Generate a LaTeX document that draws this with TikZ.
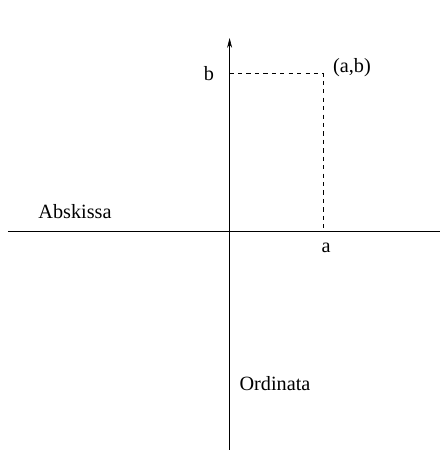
\documentclass[tikz,border=0pt]{standalone}
\usepackage{fontspec}
\setmainfont{Liberation Serif}
\usetikzlibrary{arrows.meta, positioning}

\begin{document}
\begin{tikzpicture}[>={Stealth[length=7pt, width=3.5pt]}, font=\Large]
  \useasboundingbox (0, 0) rectangle (11, 11.25);
  % Axes (horizontal = abskissa, vertical = ordinata)
  \coordinate (xstart) at (0.2, 5.475);
  \coordinate (xend) at (11, 5.475);
  \coordinate (ystart) at (5.74, 0);
  \coordinate (yend) at (5.74, 10.3);
  \draw (xstart) -- (xend);
  \draw[->] (ystart) -- (yend);

  % Point (a,b) with its projections on the axes
  \coordinate (P) at (8.08, 9.42);
  \coordinate (Pa) at (8.08, 5.475);
  \coordinate (Pb) at (5.74, 9.42);
  \draw[dashed] (Pb) -- (P) -- (Pa);

  % Labels
  \node (lb) at (5.225, 9.41) {b};
  \node (la) at (8.15, 5.06) {a};
  \node (lP) at (8.8, 9.55) {(a,b)};
  \node (labs) at (1.875, 5.95) {Abskissa};
  \node (lord) at (6.875, 1.65) {Ordinata};
\end{tikzpicture}
\end{document}
